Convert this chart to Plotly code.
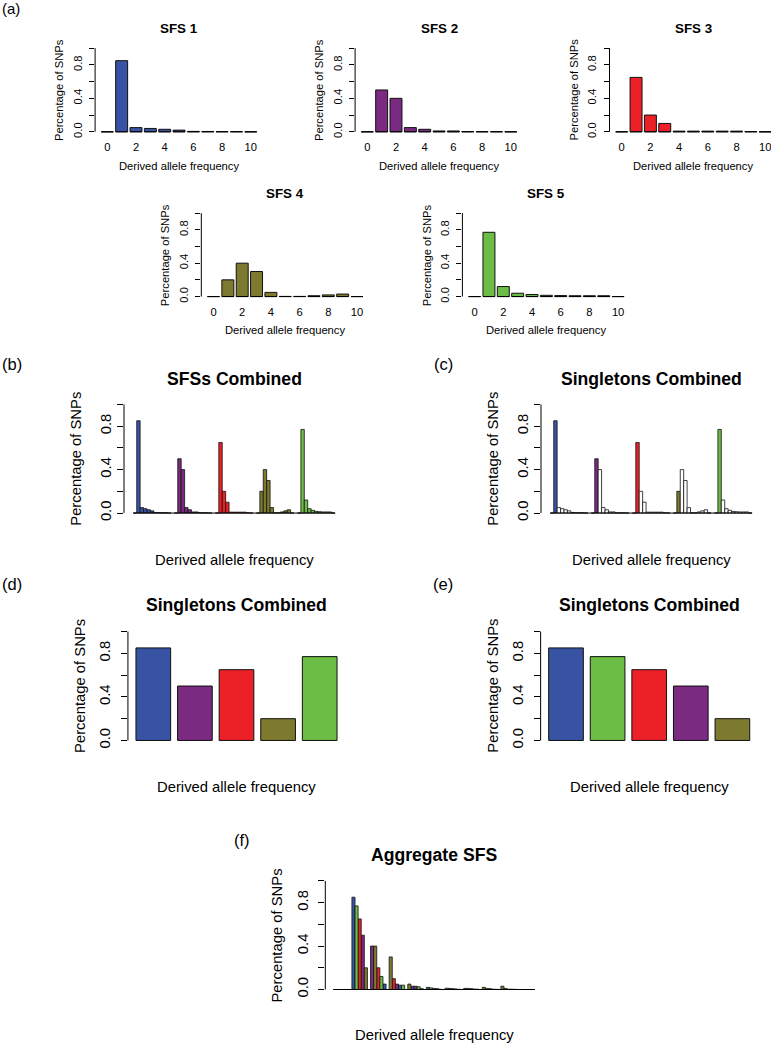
import plotly.graph_objects as go

# ---------------- data ----------------
freq_bins = list(range(11))
sfs_names = ["SFS 1", "SFS 2", "SFS 3", "SFS 4", "SFS 5"]
sfs1 = [0.0, 0.85, 0.05, 0.04, 0.03, 0.02, 0.005, 0.004, 0.003, 0.003, 0.0]
sfs2 = [0.0, 0.50, 0.40, 0.05, 0.03, 0.01, 0.01, 0.003, 0.002, 0.002, 0.0]
sfs3 = [0.0, 0.65, 0.20, 0.10, 0.008, 0.008, 0.008, 0.008, 0.008, 0.003, 0.0]
sfs4 = [0.0, 0.20, 0.40, 0.30, 0.05, 0.002, 0.002, 0.01, 0.02, 0.03, 0.0]
sfs5 = [0.0, 0.77, 0.12, 0.04, 0.025, 0.015, 0.012, 0.01, 0.01, 0.01, 0.0]
sfs_colors = ["#3953A4", "#7B2A81", "#EC2027", "#7D7A30", "#6BBD45"]
x_tick_vals = [0, 2, 4, 6, 8, 10]
y_tick_vals = [0.0, 0.2, 0.4, 0.6, 0.8, 1.0]
y_tick_text = ["0.0", "", "0.4", "", "0.8", ""]
x_title = "Derived allele frequency"
y_title = "Percentage of SNPs"
title_b = "SFSs Combined"
title_c = "Singletons Combined"
title_f = "Aggregate SFS"
panel_letters = ["(a)", "(b)", "(c)", "(d)", "(e)", "(f)"]

sfs_all = [sfs1, sfs2, sfs3, sfs4, sfs5]

# ---------------- geometry ----------------
W, H = 771, 1048
FONT = "Liberation Sans, Arial, Helvetica, sans-serif"
SMALL_AX, SMALL_TI = 11.2, 13.4
BIG_AX, BIG_TI = 14.8, 17.6

layout = dict(width=W, height=H, margin=dict(l=0, r=0, t=0, b=0),
              paper_bgcolor="white", plot_bgcolor="white", showlegend=False,
              barmode="overlay", font=dict(family=FONT, color="black"))
shapes, annotations = [], []
fig = go.Figure()
counter = [0]


def add_axes(xdom, xrange, y0px, y1px, axfont, ticklen, ystand, xticks=False, xstand=0):
    counter[0] += 1
    n = counter[0]
    sfx = "" if n == 1 else str(n)
    unit = y0px - y1px
    top, bottom = y1px - 0.04 * unit, y0px + 0.04 * unit
    xa = dict(domain=[max(0, xdom[0] / W), min(1, xdom[1] / W)], range=xrange,
              anchor="y" + sfx, showgrid=False, zeroline=False, showline=False,
              ticks="", fixedrange=True)
    if xticks:
        xa.update(tickmode="array", tickvals=x_tick_vals,
                  ticktext=[str(v) for v in x_tick_vals],
                  tickfont=dict(size=axfont, family=FONT, color="black"),
                  ticklabelstandoff=xstand, ticklabeloverflow="allow")
    else:
        xa.update(showticklabels=False)
    ya = dict(domain=[1 - bottom / H, 1 - top / H], range=[-0.04, 1.04],
              anchor="x" + sfx, showgrid=False, zeroline=False, showline=False,
              tickmode="array", tickvals=y_tick_vals, ticktext=y_tick_text,
              ticks="outside", ticklen=ticklen, tickwidth=1, tickcolor="black",
              tickangle=-90, tickfont=dict(size=axfont, family=FONT, color="black"),
              ticklabelstandoff=ystand, fixedrange=True)
    layout["xaxis" + sfx] = xa
    layout["yaxis" + sfx] = ya
    shapes.append(dict(type="line", xref="x" + sfx + " domain", x0=0, x1=0,
                       yref="y" + sfx, y0=0, y1=1, line=dict(color="black", width=1)))
    return "x" + sfx, "y" + sfx


def text(t, x, y, size, bold=False, angle=0, xanchor="center"):
    annotations.append(dict(text=("<b>%s</b>" % t) if bold else t, x=x / W, y=1 - y / H,
                            xref="paper", yref="paper", showarrow=False,
                            xanchor=xanchor, yanchor="middle", textangle=angle,
                            font=dict(size=size, family=FONT, color="black")))


def baseline(xa, ya, xs, ys):
    fig.add_trace(go.Scatter(x=xs, y=ys, mode="lines", xaxis=xa, yaxis=ya,
                             line=dict(color="black", width=1), hoverinfo="skip"))


# ---------------- (a) individual SFS ----------------
s = 14.35
bw_a = 1 / 1.2
a_c0 = [107.3, 367.3, 621.7, 213.5, 474.6]
a_rows = [(132.3, 48.3), (132.3, 48.3), (132.3, 48.3), (297.7, 213.9), (297.7, 213.9)]
for i, vals in enumerate(sfs_all):
    c0 = a_c0[i]
    y0px, y1px = a_rows[i]
    left = c0 - 0.85 * s
    right = min(W, c0 + 10.85 * s)
    xa, ya = add_axes([left, right], [-0.85, (right - c0) / s], y0px, y1px,
                      SMALL_AX, 5, 3, xticks=True, xstand=4)
    fig.add_trace(go.Bar(x=freq_bins, y=vals, width=bw_a, xaxis=xa, yaxis=ya,
                         marker=dict(color=sfs_colors[i], line=dict(color="#111", width=1)),
                         hoverinfo="skip"))
    xs, ys = [], []
    for b in freq_bins:
        xs += [b - bw_a / 2, b + bw_a / 2, None]
        ys += [0, 0, None]
    baseline(xa, ya, xs, ys)
    cx = c0 + 5 * s
    text(sfs_names[i], cx, y1px - 20, SMALL_TI, bold=True)
    text(x_title, cx, y0px + 34, SMALL_AX)
    text(y_title, left - 36, (y0px + y1px) / 2, SMALL_AX, angle=-90)
text(panel_letters[0], 0, 8.3, 15, xanchor="left")

# ---------------- (b) and (c) grouped per SFS ----------------
u_bc = 3.42
for p, (first_px, letter_x, letter_anchor, title) in enumerate(
        [(133.3, 0, "left", title_b), (550.3, 443.3, "center", title_c)]):
    axis_px = first_px - 9.3
    xr = [-0.5 - 9.3 / u_bc, 58.5 + 9.3 / u_bc]
    xa, ya = add_axes([axis_px, axis_px + (xr[1] - xr[0]) * u_bc], xr, 515, 406,
                      BIG_AX, 6, 0)
    for g, vals in enumerate(sfs_all):
        xpos = [12 * g + b for b in freq_bins]
        if p == 0:
            cols = [sfs_colors[g]] * len(vals)
        else:
            cols = [sfs_colors[g] if b == 1 else "white" for b in freq_bins]
        fig.add_trace(go.Bar(x=xpos, y=vals, width=1, xaxis=xa, yaxis=ya,
                             marker=dict(color=cols, line=dict(color="#111", width=0.8)),
                             hoverinfo="skip"))
    baseline(xa, ya, [-0.5, 12 * 4 + freq_bins[-1] + 0.5], [0, 0])
    cx = axis_px + (xr[1] - xr[0]) * u_bc / 2
    text(title, cx, 380, BIG_TI, bold=True)
    text(x_title, cx, 562, BIG_AX)
    text(y_title, axis_px - 48, 460.5, BIG_AX, angle=-90)
    text(panel_letters[1 + p], letter_x, 365, 16.5, xanchor=letter_anchor)

# ---------------- (d) and (e) singletons ----------------
singletons = [v[1] for v in sfs_all]
order_desc = sorted(range(5), key=lambda k: -singletons[k])
u_de = 41.6
bw_de = 1 / 1.2
for p, (c0, letter_x, letter_anchor, order) in enumerate(
        [(153.3, 0, "left", list(range(5))), (566.0, 443.0, "center", order_desc)]):
    left = c0 - 0.61 * u_de
    xa, ya = add_axes([left, c0 + 4.61 * u_de], [-0.61, 4.61], 743.3, 634, BIG_AX, 6, 5)
    fig.add_trace(go.Bar(x=list(range(5)), y=[singletons[k] for k in order], width=bw_de,
                         xaxis=xa, yaxis=ya,
                         marker=dict(color=[sfs_colors[k] for k in order],
                                     line=dict(color="#111", width=1)),
                         hoverinfo="skip"))
    cx = c0 + 2 * u_de
    text(title_c, cx, 607, BIG_TI, bold=True)
    text(x_title, cx, 790, BIG_AX)
    text(y_title, left - 48, (743.3 + 634) / 2, BIG_AX, angle=-90)
    text(panel_letters[3 + p], letter_x, 586.7, 16.5, xanchor=letter_anchor)

# ---------------- (f) aggregate ----------------
u_f = 3.103
first_px = 333.3
axis_px = first_px - 8
xr = [-0.5 - 8 / u_f, 64.5 + 8 / u_f]
xa, ya = add_axes([axis_px, axis_px + (xr[1] - xr[0]) * u_f], xr, 993.3, 884.3, BIG_AX, 6, 4)
xpos_f = [[0] * 11 for _ in range(5)]
for b in freq_bins:
    ranked = sorted(range(5), key=lambda k: -sfs_all[k][b])
    for r, k in enumerate(ranked):
        xpos_f[k][b] = 6 * b + r
for k, vals in enumerate(sfs_all):
    fig.add_trace(go.Bar(x=xpos_f[k], y=vals, width=1, xaxis=xa, yaxis=ya,
                         marker=dict(color=sfs_colors[k], line=dict(color="#111", width=0.8)),
                         hoverinfo="skip"))
baseline(xa, ya, [-0.5, 6 * freq_bins[-1] + 4.5], [0, 0])
cx = axis_px + (xr[1] - xr[0]) * u_f / 2
text(title_f, cx, 858.3, BIG_TI, bold=True)
text(x_title, cx, 1039, BIG_AX)
text(y_title, axis_px - 48, (993.3 + 884.3) / 2, BIG_AX, angle=-90)
text(panel_letters[5], 241.7, 843.3, 16.5)

layout["shapes"] = shapes
layout["annotations"] = annotations
fig.update_layout(**layout)
fig.write_html("out.html", config={"displayModeBar": False},
               post_script="document.body.style.margin='0';"
                           "document.documentElement.style.overflow='hidden';")
